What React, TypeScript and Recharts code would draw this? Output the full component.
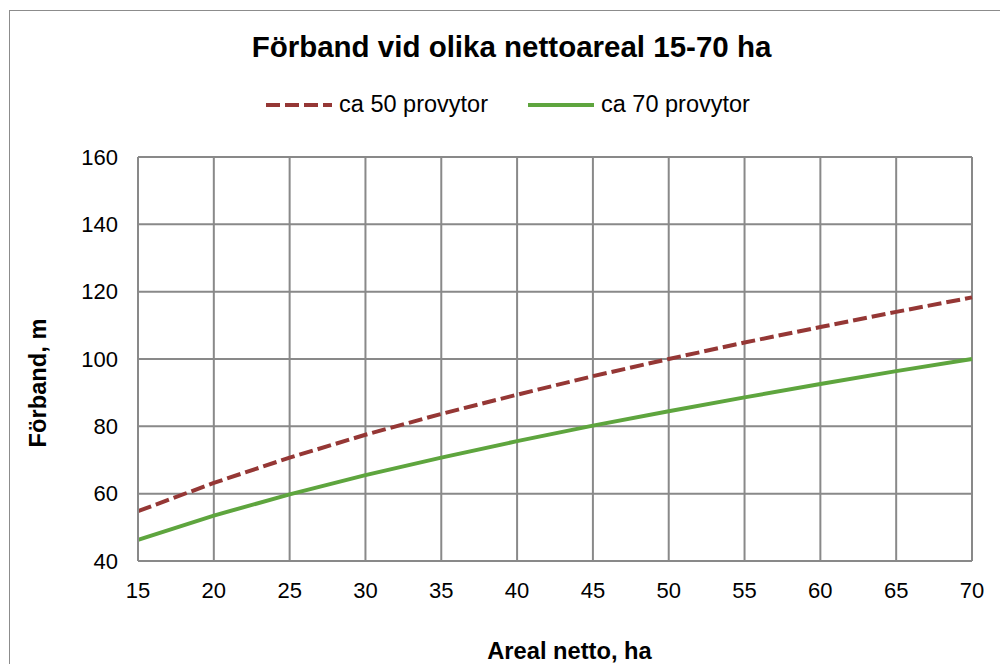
import { LineChart, Line, XAxis, YAxis, CartesianGrid, Legend, Label } from 'recharts';

const AREAS = [15, 20, 25, 30, 35, 40, 45, 50, 55, 60, 65, 70];
const SERIES_50 = [54.8, 63.2, 70.7, 77.5, 83.7, 89.4, 94.9, 100, 104.9, 109.5, 114.0, 118.3];
const SERIES_70 = [46.3, 53.5, 59.8, 65.5, 70.7, 75.6, 80.2, 84.5, 88.6, 92.6, 96.4, 100];
const X_TICKS = [15, 20, 25, 30, 35, 40, 45, 50, 55, 60, 65, 70];
const Y_TICKS = [40, 60, 80, 100, 120, 140, 160];

const RED = '#953735';
const GREEN = '#5EA53E';
const GRID = '#898989';
const FONT = 'Arial, "Liberation Sans", sans-serif';

const data = AREAS.map((a, i) => ({ area: a, s50: SERIES_50[i], s70: SERIES_70[i] }));

function LegendContent() {
  const item = (color: string, dash: string | undefined, text: string, gap: number) => (
    <div style={{ display: 'flex', alignItems: 'center', marginRight: gap }}>
      <svg width={66} height={8} style={{ marginRight: 7 }}>
        <line x1={0} y1={4} x2={66} y2={4} stroke={color} strokeWidth={4} strokeDasharray={dash} />
      </svg>
      <span>{text}</span>
    </div>
  );
  return (
    <div style={{ display: 'flex', justifyContent: 'center', fontFamily: FONT, fontSize: 23.5, color: '#000' }}>
      {item(RED, '14 5', 'ca 50 provytor', 40)}
      {item(GREEN, undefined, 'ca 70 provytor', 0)}
    </div>
  );
}

const axisLabelStyle = { fontWeight: 'bold', fontSize: 23.7, fontFamily: FONT, fill: '#000' };

export default function App() {
  return (
    <div style={{ position: 'absolute', left: 0, top: 0, width: 1000, height: 664, overflow: 'hidden', background: '#fff' }}>
      <div style={{ position: 'absolute', left: 9, top: 10, width: 1200, height: 900, border: '1.5px solid #8c8c8c' }} />
      <div style={{ position: 'absolute', left: 0, top: 30, width: 1023, textAlign: 'center', fontFamily: FONT, fontWeight: 'bold', fontSize: 29.5 }}>
        Förband vid olika nettoareal 15-70 ha
      </div>
      <LineChart
        width={1000}
        height={664}
        data={data}
        margin={{ top: 157, right: 28, bottom: 63, left: 78 }}
        style={{ position: 'absolute', left: 0, top: 0 }}
      >
        <CartesianGrid stroke={GRID} strokeWidth={2} />
        <XAxis
          dataKey="area"
          type="number"
          domain={[15, 70]}
          ticks={X_TICKS}
          height={40}
          tickLine={false}
          axisLine={{ stroke: GRID, strokeWidth: 2 }}
          tick={{ fill: '#000', fontSize: 22, fontFamily: FONT }}
          tickMargin={15}
        >
          <Label
            content={() => (
              <text x={569.5} y={651} textAnchor="middle" dominantBaseline="central" style={axisLabelStyle}>
                Areal netto, ha
              </text>
            )}
          />
        </XAxis>
        <YAxis
          type="number"
          domain={[40, 160]}
          ticks={Y_TICKS}
          width={60}
          tickLine={false}
          axisLine={{ stroke: GRID, strokeWidth: 2 }}
          tick={{ fill: '#000', fontSize: 22, fontFamily: FONT }}
          tickMargin={14}
        >
          <Label
            content={() => (
              <text
                x={38}
                y={383}
                transform="rotate(-90, 38, 383)"
                textAnchor="middle"
                dominantBaseline="central"
                style={axisLabelStyle}
              >
                Förband, m
              </text>
            )}
          />
        </YAxis>
        <Legend
          layout="vertical"
          align="center"
          verticalAlign="middle"
          content={<LegendContent />}
          wrapperStyle={{ top: 91, left: 0, width: 1016 }}
        />
        <Line dataKey="s50" name="ca 50 provytor" stroke={RED} strokeWidth={4} strokeDasharray="14 5" dot={false} isAnimationActive={false} />
        <Line dataKey="s70" name="ca 70 provytor" stroke={GREEN} strokeWidth={4} dot={false} isAnimationActive={false} />
      </LineChart>
    </div>
  );
}
